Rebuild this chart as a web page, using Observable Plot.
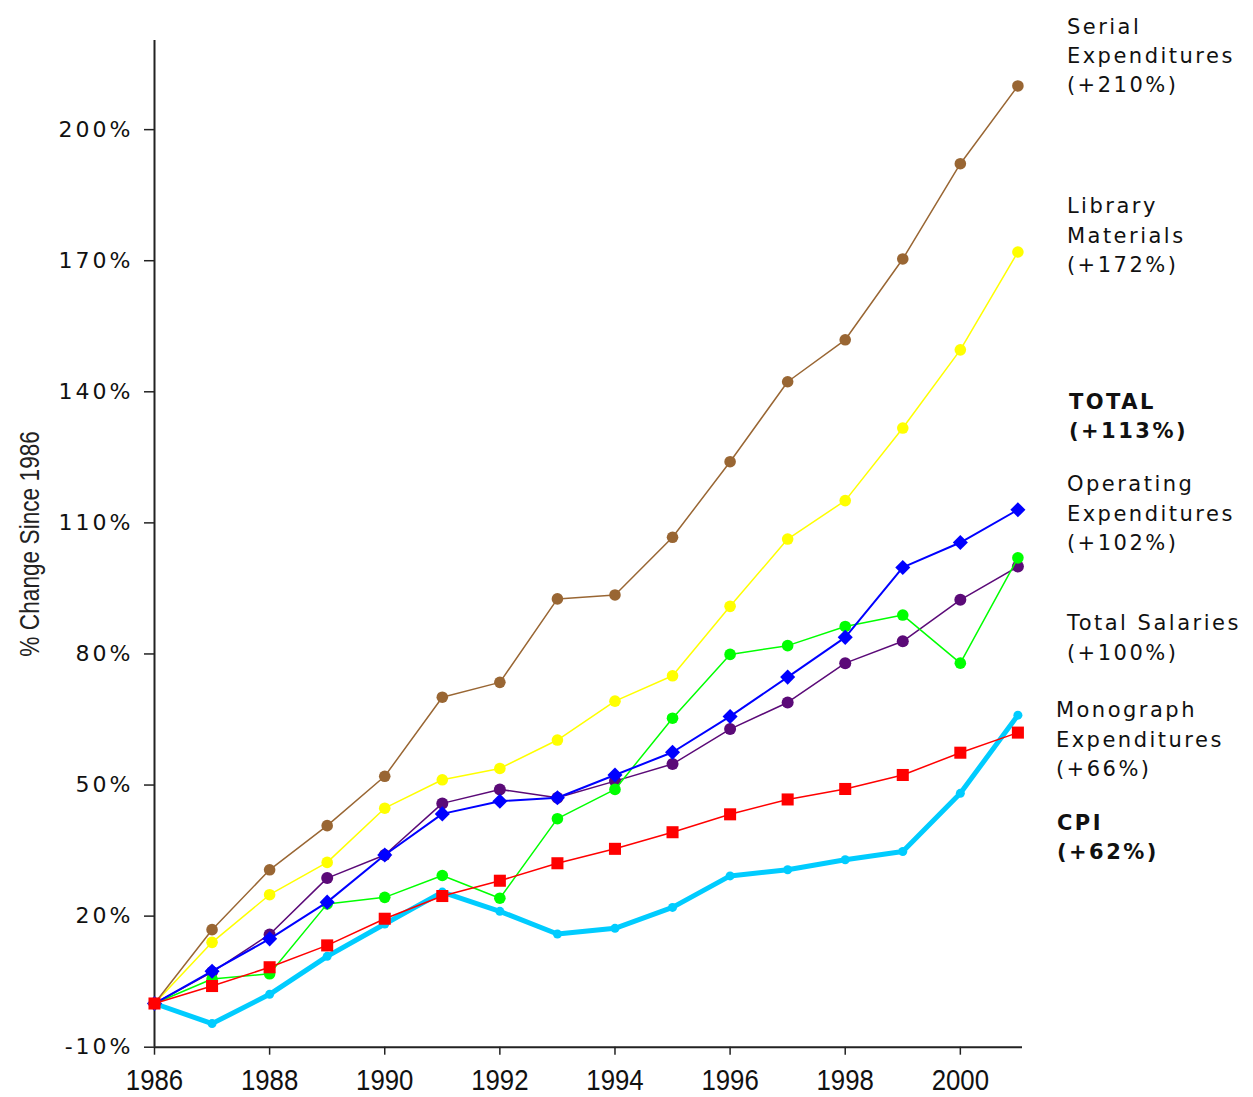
<!DOCTYPE html>
<html>
<head>
<meta charset="utf-8">
<script src="https://cdn.jsdelivr.net/npm/d3@7"></script>
<script src="https://cdn.jsdelivr.net/npm/@observablehq/plot@0.6"></script>
<style>
  html, body { margin: 0; padding: 0; background: #fff; }
  #chart svg { display: block; background: #fff; }
  #chart g[aria-label="y-axis tick label"] { font-family: "DejaVu Sans", sans-serif; letter-spacing: 3px; }
  #chart g.series-label { font-family: "DejaVu Sans", sans-serif; letter-spacing: 2.5px; }
</style>
</head>
<body>
<div id="chart"></div>
<script>
// Years on the horizontal axis
const years = [1986, 1987, 1988, 1989, 1990, 1991, 1992, 1993, 1994, 1995, 1996, 1997, 1998, 1999, 2000, 2001];

// Percent change since 1986 for each expenditure category
const serialExpenditures    = [0, 16.9, 30.6, 40.7, 52.0, 70.1, 73.5, 92.6, 93.5, 106.7, 124.0, 142.3, 151.9, 170.4, 192.2, 210];
const libraryMaterials      = [0, 14.0, 24.9, 32.3, 44.7, 51.2, 53.8, 60.3, 69.2, 75.0, 90.9, 106.3, 115.1, 131.7, 149.6, 172];
const totalExpenditures     = [0, 7.4, 14.8, 23.2, 34.0, 43.4, 46.3, 47.1, 52.3, 57.5, 65.7, 74.7, 83.8, 99.8, 105.5, 113];
const operatingExpenditures = [0, 5.6, 6.8, 22.8, 24.3, 29.3, 24.1, 42.3, 49.0, 65.3, 79.9, 81.9, 86.3, 88.9, 77.9, 102];
const totalSalaries         = [0, 7.2, 15.8, 28.7, 34.0, 45.8, 49.0, 47.1, 50.9, 54.8, 62.8, 68.9, 77.9, 82.9, 92.4, 100];
const monographExpenditures = [0, -4.6, 2.1, 10.8, 18.2, 25.5, 21.1, 15.9, 17.2, 22.0, 29.2, 30.6, 32.9, 34.8, 48.1, 66];
const cpi                   = [0, 4.0, 8.3, 13.3, 19.4, 24.6, 28.1, 32.1, 35.4, 39.2, 43.3, 46.7, 49.1, 52.3, 57.4, 62];

// Axis ticks
const xTicks = [1986, 1988, 1990, 1992, 1994, 1996, 1998, 2000];
const yTicks = [-10, 20, 50, 80, 110, 140, 170, 200];
const yTitle = "% Change Since 1986";

// End-of-line labels and the level (in %) each block is centred on
const labelTexts = [
  "Serial\nExpenditures\n(+210%)",
  "Library\nMaterials\n(+172%)",
  "TOTAL\n(+113%)",
  "Operating\nExpenditures\n(+102%)",
  "Total Salaries\n(+100%)",
  "Monograph\nExpenditures\n(+66%)",
  "CPI\n(+62%)"
];
const labelLevels = [217.4, 176.3, 134.9, 112.7, 84.2, 60.9, 38.6];

// Draw order: bottom to top
const series = [
  {key: "monograph", values: monographExpenditures, color: "#00CCFF", width: 5,   symbol: "circle",   r: 4.5},
  {key: "salaries",  values: totalSalaries,         color: "#5B0A78", width: 1.5, symbol: "circle",   r: 6},
  {key: "operating", values: operatingExpenditures, color: "#00FF00", width: 1.5, symbol: "circle",   r: 5.8},
  {key: "total",     values: totalExpenditures,     color: "#0000FF", width: 2,   symbol: "diamond2", r: 6.8},
  {key: "library",   values: libraryMaterials,      color: "#FFFF00", width: 1.5, symbol: "circle",   r: 5.8},
  {key: "serial",    values: serialExpenditures,    color: "#996633", width: 1.5, symbol: "circle",   r: 5.8},
  {key: "cpi",       values: cpi,                   color: "#FF0000", width: 1.5, symbol: "square",   r: 6.8}
];

const rowsFor = (s) => years.map((year, i) => ({year, value: s.values[i]}));
const lastYear = years[years.length - 1];

const labels = labelTexts.map((text, i) => ({text, level: labelLevels[i]}));
const regularLabels = labels.filter((d, i) => [0, 1, 3, 4].includes(i));
const monographLabel = labels.filter((d, i) => i === 5);
const totalLabel = labels.filter((d, i) => i === 2);
const cpiLabel = labels.filter((d, i) => i === 6);

const labelStyle = {
  x: () => lastYear, y: "level", text: "text",
  textAnchor: "start", lineAnchor: "middle", lineHeight: 1.4,
  fontSize: 21, fill: "#111", className: "series-label"
};

const chart = Plot.plot({
  width: 1253,
  height: 1097,
  marginLeft: 154,
  marginRight: 231,
  marginTop: 40,
  marginBottom: 50.3,
  style: {fontFamily: "'Liberation Sans', Arial, sans-serif", color: "#111", background: "#fff"},
  x: {domain: [1986, 2001.08]},
  y: {domain: [-10, 220.4]},
  marks: [
    Plot.axisY({ticks: yTicks, tickFormat: d => d + "%", tickSize: 10, tickPadding: 11,
                fontSize: 22, stroke: "#222", strokeWidth: 1.5, label: null}),
    Plot.axisX({ticks: xTicks, tickFormat: d => String(d), tickSize: 8, tickPadding: 13,
                fontSize: 30, stroke: "#222", strokeWidth: 1.5, label: null}),
    Plot.ruleX([1986], {stroke: "#222", strokeWidth: 2}),
    Plot.ruleY([-10], {stroke: "#222", strokeWidth: 2}),
    ...series.flatMap(s => [
      Plot.line(rowsFor(s), {x: "year", y: "value", stroke: s.color, strokeWidth: s.width, curve: "linear"}),
      Plot.dot(rowsFor(s), {x: "year", y: "value", fill: s.color, symbol: s.symbol, r: s.r})
    ]),
    Plot.text(regularLabels, {...labelStyle, dx: 49}),
    Plot.text(monographLabel, {...labelStyle, dx: 38}),
    Plot.text(totalLabel, {...labelStyle, dx: 51, fontWeight: "bold"}),
    Plot.text(cpiLabel, {...labelStyle, dx: 39, fontWeight: "bold"}),
    Plot.text([yTitle], {text: d => d, frameAnchor: "left", textAnchor: "middle", rotate: -90, dx: -124,
                         fontSize: 27, fill: "#222", className: "axis-title"})
  ]
});

// Condensed look for the year labels and the vertical axis title
const condense = (sel, sx) => d3.select(chart).selectAll(sel).each(function () {
  const t = this.getAttribute("transform") || "";
  this.setAttribute("transform", `${t} scale(${sx},1)`);
});
condense('g[aria-label="x-axis tick label"] text', 0.86);
condense("g.axis-title text", 0.84);

document.getElementById("chart").appendChild(chart);
</script>
</body>
</html>
